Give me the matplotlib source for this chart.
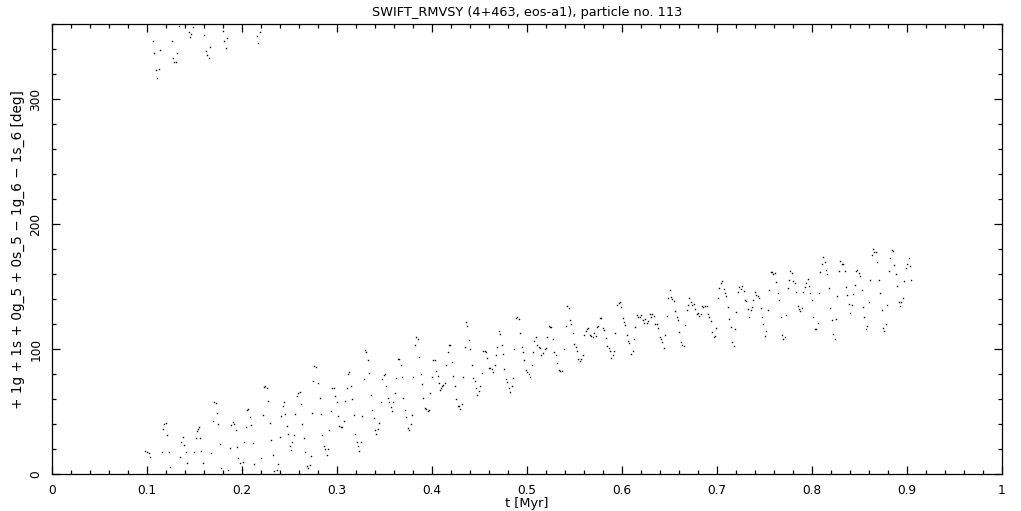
import numpy as np
import matplotlib
matplotlib.use("Agg")
import matplotlib.pyplot as plt
from matplotlib.ticker import MultipleLocator

# resonant angle vs time (t in Myr, angle in deg)
early = [(0.0982, 18.7), (0.0999, 17.9), (0.1021, 17.1), (0.1028, 13.4), (0.1154, 17.4), (0.1168, 35.8),
         (0.1175, 39.9), (0.1196, 40.7), (0.1210, 31.0), (0.1228, 17.4), (0.1238, 5.4), (0.1344, 13.4),
         (0.1354, 25.4), (0.1375, 29.4), (0.1386, 23.0), (0.1407, 17.4), (0.1417, 8.6), (0.1491, 17.4),
         (0.1512, 28.6), (0.1523, 34.2), (0.1533, 35.8), (0.1544, 37.4), (0.1554, 28.6), (0.1565, 18.2),
         (0.1586, 8.6), (0.1670, 16.6), (0.1691, 42.3), (0.1702, 57.5), (0.1723, 56.7), (0.1733, 48.7),
         (0.1744, 39.9), (0.1765, 23.8), (0.1775, 4.6), (0.1849, 3.0), (0.1870, 20.6), (0.1881, 39.1),
         (0.1902, 41.5), (0.1912, 39.9), (0.1933, 35.0), (0.1944, 21.4), (0.1954, 12.6), (0.1975, 8.6),
         (0.1997, 3.0), (0.2007, 9.9), (0.2018, 25.4), (0.2039, 37.4), (0.2049, 51.1), (0.2060, 51.9),
         (0.2081, 45.5), (0.2091, 39.1), (0.2112, 24.6), (0.2123, 7.8), (0.2197, 12.6), (0.2218, 47.1),
         (0.2228, 69.5), (0.2239, 70.3), (0.2260, 68.7), (0.2270, 58.3), (0.2291, 40.7), (0.2302, 27.0)]

# same angle, wrapped just below 360
wrapped = [(0.1059, 347.0), (0.1070, 337.4), (0.1091, 323.7), (0.1102, 317.3), (0.1123, 324.5), (0.1133, 339.8),
           (0.1259, 347.0), (0.1270, 333.4), (0.1281, 330.2), (0.1302, 330.2), (0.1312, 337.4), (0.1333, 359.0),
           (0.1438, 354.2), (0.1449, 350.2), (0.1460, 352.6), (0.1481, 358.2), (0.1596, 351.8), (0.1618, 339.0),
           (0.1628, 335.8), (0.1649, 333.4), (0.1660, 342.2), (0.1797, 355.0), (0.1807, 347.0), (0.1828, 341.4),
           (0.1839, 349.4), (0.2155, 351.0), (0.2165, 345.4), (0.2186, 354.2)]

middle = [(0.2326, 14.9), (0.2333, 2.1), (0.2368, 2.9), (0.2375, 7.7), (0.2396, 29.6), (0.2407, 46.2),
          (0.2428, 54.2), (0.2438, 57.4), (0.2449, 47.8), (0.2470, 38.2), (0.2481, 31.8), (0.2502, 22.2),
          (0.2512, 18.9), (0.2523, 25.4), (0.2544, 31.0), (0.2554, 47.8), (0.2575, 62.2), (0.2586, 64.7),
          (0.2607, 65.5), (0.2617, 55.8), (0.2628, 39.8), (0.2649, 28.6), (0.2660, 17.3), (0.2681, 6.1),
          (0.2691, 4.5), (0.2712, 6.9), (0.2723, 14.1), (0.2733, 48.6), (0.2744, 74.3), (0.2754, 86.3),
          (0.2775, 85.5), (0.2796, 72.7), (0.2817, 60.6), (0.2828, 47.8), (0.2839, 31.0), (0.2860, 22.2),
          (0.2870, 19.7), (0.2891, 14.9), (0.2902, 19.7), (0.2912, 35.0), (0.2933, 50.2), (0.2944, 68.7),
          (0.2965, 68.7), (0.2975, 62.2), (0.2996, 57.4), (0.3007, 46.2), (0.3018, 38.2), (0.3039, 37.9),
          (0.3049, 37.4), (0.3070, 42.2), (0.3081, 58.2), (0.3102, 68.7), (0.3112, 79.9), (0.3123, 81.5),
          (0.3144, 70.3), (0.3154, 59.8), (0.3175, 47.0), (0.3186, 31.8), (0.3207, 25.4), (0.3218, 22.2),
          (0.3228, 18.1), (0.3249, 25.4), (0.3260, 46.2), (0.3281, 75.9), (0.3291, 99.1), (0.3302, 97.5),
          (0.3323, 91.1), (0.3333, 80.7), (0.3355, 63.0), (0.3365, 51.0), (0.3386, 44.6), (0.3397, 35.0),
          (0.3407, 31.8), (0.3428, 35.8), (0.3439, 40.6), (0.3460, 57.4), (0.3470, 75.9), (0.3491, 79.1),
          (0.3502, 79.9), (0.3513, 70.3), (0.3534, 60.6), (0.3544, 57.4), (0.3565, 53.4), (0.3576, 50.2),
          (0.3586, 57.4), (0.3607, 64.7), (0.3618, 76.7), (0.3639, 91.9), (0.3649, 91.9), (0.3670, 87.1),
          (0.3681, 77.5), (0.3691, 60.6), (0.3712, 51.0), (0.3723, 45.4), (0.3744, 36.6), (0.3754, 35.0),
          (0.3776, 39.8), (0.3786, 47.0), (0.3797, 77.5), (0.3818, 103.1), (0.3829, 109.6), (0.3849, 108.0),
          (0.3860, 93.5), (0.3881, 79.9), (0.3892, 71.9), (0.3902, 60.6), (0.3923, 52.6), (0.3934, 51.8),
          (0.3955, 50.2), (0.3965, 51.0), (0.3976, 64.7), (0.3997, 77.5), (0.4007, 91.1), (0.4028, 91.1),
          (0.4039, 82.3), (0.4060, 78.3), (0.4071, 72.7), (0.4081, 67.1), (0.4092, 68.7), (0.4102, 70.3),
          (0.4113, 71.1), (0.4134, 72.7), (0.4144, 87.1), (0.4165, 97.5), (0.4176, 103.1), (0.4187, 103.1)]

later = [(0.4207, 89.5), (0.4218, 78.3), (0.4239, 70.3), (0.4249, 59.9), (0.4270, 54.3), (0.4281, 54.3),
         (0.4291, 51.9), (0.4312, 55.9), (0.4323, 77.5), (0.4344, 101.6), (0.4354, 121.6), (0.4365, 118.4),
         (0.4386, 107.2), (0.4397, 100.0), (0.4418, 87.1), (0.4428, 76.7), (0.4449, 74.3), (0.4460, 68.7),
         (0.4470, 63.1), (0.4491, 66.3), (0.4502, 70.3), (0.4523, 80.7), (0.4533, 98.4), (0.4555, 98.4),
         (0.4565, 97.6), (0.4576, 92.7), (0.4597, 84.7), (0.4607, 84.7), (0.4628, 83.9), (0.4639, 81.5),
         (0.4660, 87.1), (0.4670, 95.1), (0.4681, 101.6), (0.4702, 114.4), (0.4712, 112.0), (0.4734, 103.2),
         (0.4744, 96.0), (0.4755, 83.9), (0.4776, 75.9), (0.4786, 73.5), (0.4807, 68.7), (0.4818, 65.5),
         (0.4839, 70.3), (0.4849, 76.7), (0.4860, 100.0), (0.4881, 124.8), (0.4892, 125.6), (0.4913, 124.0),
         (0.4923, 112.8), (0.4944, 101.6), (0.4955, 97.6), (0.4965, 91.1), (0.4986, 83.1), (0.4997, 81.5),
         (0.5018, 79.9), (0.5028, 77.5), (0.5049, 87.1), (0.5060, 97.6), (0.5071, 106.4), (0.5092, 109.6),
         (0.5102, 103.2), (0.5123, 101.6), (0.5134, 100.8), (0.5144, 95.1), (0.5165, 96.8), (0.5186, 100.0),
         (0.5197, 100.8), (0.5207, 109.6), (0.5228, 118.4), (0.5239, 117.6), (0.5250, 117.6), (0.5271, 108.0),
         (0.5281, 97.6), (0.5302, 95.1), (0.5313, 88.7), (0.5334, 83.1), (0.5344, 82.3), (0.5365, 82.3),
         (0.5386, 100.0), (0.5408, 118.4), (0.5418, 134.4), (0.5439, 132.8), (0.5450, 123.2), (0.5460, 120.0),
         (0.5481, 112.8), (0.5492, 104.0), (0.5513, 101.6), (0.5523, 98.4), (0.5534, 91.9), (0.5555, 90.3),
         (0.5565, 91.9), (0.5587, 95.1), (0.5597, 111.2), (0.5618, 114.4), (0.5629, 116.0), (0.5639, 116.8),
         (0.5660, 111.2), (0.5671, 110.4), (0.5692, 109.6), (0.5702, 112.8), (0.5723, 110.4), (0.5734, 117.6),
         (0.5744, 118.4), (0.5765, 124.8), (0.5776, 124.8), (0.5797, 116.8), (0.5808, 115.2), (0.5829, 108.8),
         (0.5839, 102.4), (0.5860, 100.8), (0.5871, 98.4), (0.5881, 92.7), (0.5902, 95.1), (0.5913, 98.4),
         (0.5924, 112.8), (0.5945, 135.2), (0.5966, 136.9), (0.5976, 137.7), (0.5987, 133.6), (0.6008, 124.8),
         (0.6018, 121.6), (0.6029, 119.2), (0.6050, 111.2), (0.6060, 106.4), (0.6071, 104.8)]

late = [(0.6091, 96.0), (0.6112, 98.4), (0.6122, 108.0), (0.6133, 117.6), (0.6154, 127.3), (0.6164, 125.7),
        (0.6185, 125.7), (0.6196, 127.3), (0.6217, 123.3), (0.6227, 120.9), (0.6238, 124.1), (0.6259, 120.9),
        (0.6270, 122.5), (0.6291, 128.1), (0.6301, 125.7), (0.6312, 128.1), (0.6333, 126.5), (0.6343, 120.1),
        (0.6364, 120.1), (0.6375, 116.8), (0.6396, 109.6), (0.6406, 108.0), (0.6417, 105.6), (0.6438, 100.8),
        (0.6449, 111.2), (0.6470, 126.5), (0.6480, 140.9), (0.6501, 147.3), (0.6512, 141.7), (0.6522, 140.1),
        (0.6543, 138.5), (0.6554, 130.5), (0.6575, 125.7), (0.6585, 123.3), (0.6596, 113.6), (0.6617, 105.6),
        (0.6628, 103.2), (0.6649, 102.4), (0.6659, 119.3), (0.6680, 131.3), (0.6691, 135.3), (0.6701, 140.9),
        (0.6722, 137.7), (0.6733, 135.3), (0.6754, 136.1), (0.6764, 132.1), (0.6785, 128.1), (0.6796, 128.9),
        (0.6807, 126.5), (0.6828, 128.1), (0.6838, 134.5), (0.6849, 133.7), (0.6870, 134.5), (0.6891, 134.5),
        (0.6901, 128.1), (0.6912, 125.7), (0.6933, 122.5), (0.6943, 113.6), (0.6964, 109.6), (0.6975, 110.4),
        (0.6986, 116.8), (0.7007, 140.9), (0.7017, 148.9), (0.7038, 153.0), (0.7049, 154.6), (0.7070, 148.1),
        (0.7080, 144.9), (0.7091, 142.5), (0.7112, 133.7), (0.7122, 124.1), (0.7143, 117.6), (0.7154, 105.6),
        (0.7175, 102.4), (0.7186, 116.0), (0.7196, 129.7), (0.7217, 145.7), (0.7228, 149.7), (0.7249, 148.1),
        (0.7259, 150.5), (0.7280, 146.5), (0.7291, 139.3), (0.7301, 138.5), (0.7322, 132.1), (0.7333, 125.7),
        (0.7354, 131.3), (0.7364, 133.7), (0.7375, 139.3), (0.7396, 145.7), (0.7406, 143.3), (0.7428, 142.5),
        (0.7438, 140.9), (0.7459, 132.9), (0.7470, 125.7), (0.7480, 120.1), (0.7501, 110.4), (0.7512, 114.4),
        (0.7533, 131.3), (0.7544, 147.3), (0.7565, 161.8), (0.7575, 161.8), (0.7586, 160.2), (0.7607, 161.0),
        (0.7617, 153.7), (0.7638, 144.9), (0.7649, 139.3), (0.7670, 125.7), (0.7680, 111.2), (0.7691, 108.0),
        (0.7712, 109.6), (0.7722, 127.3), (0.7743, 148.9), (0.7754, 155.3), (0.7765, 162.5), (0.7786, 161.0),
        (0.7796, 154.5), (0.7817, 153.0), (0.7828, 145.7), (0.7849, 134.5), (0.7860, 132.1), (0.7870, 130.5),
        (0.7891, 132.9), (0.7902, 145.7), (0.7923, 149.7), (0.7933, 153.0), (0.7954, 156.1), (0.7965, 150.5),
        (0.7975, 144.9), (0.7996, 139.3), (0.8007, 125.7), (0.8028, 116.0), (0.8038, 116.0), (0.8059, 120.9),
        (0.8070, 144.9), (0.8080, 161.8), (0.8101, 168.2), (0.8112, 173.8), (0.8133, 169.8), (0.8143, 163.4),
        (0.8154, 160.2), (0.8175, 148.9), (0.8186, 132.9), (0.8207, 123.0), (0.8217, 112.0), (0.8238, 108.0),
        (0.8249, 124.1), (0.8259, 142.5), (0.8280, 162.6), (0.8291, 170.6), (0.8312, 168.2), (0.8322, 168.2),
        (0.8343, 162.6), (0.8354, 149.7), (0.8364, 143.3), (0.8386, 136.1), (0.8396, 128.9), (0.8417, 135.3),
        (0.8428, 144.1), (0.8449, 151.3), (0.8459, 162.6), (0.8470, 163.4), (0.8491, 161.0), (0.8501, 158.5),
        (0.8522, 147.3), (0.8533, 133.7), (0.8544, 125.7), (0.8565, 116.0), (0.8575, 118.5), (0.8596, 137.7),
        (0.8607, 155.3), (0.8628, 175.4), (0.8638, 180.2), (0.8649, 177.8), (0.8670, 177.8), (0.8680, 169.8),
        (0.8701, 155.3), (0.8712, 144.9), (0.8733, 131.3), (0.8744, 116.8), (0.8754, 114.4), (0.8775, 120.1),
        (0.8786, 135.3), (0.8807, 162.6), (0.8817, 173.0), (0.8838, 179.4), (0.8849, 178.6), (0.8859, 167.4),
        (0.8880, 160.2), (0.8891, 150.5), (0.8912, 137.7), (0.8923, 134.5), (0.8933, 137.7), (0.8954, 140.9),
        (0.8965, 154.5), (0.8986, 165.0), (0.8996, 168.2), (0.9017, 173.0), (0.9028, 166.6), (0.9038, 155.3)]

title = "SWIFT_RMVSY (4+463, eos-a1), particle no. 113"
xlabel = "t [Myr]"
ylabel = "+ 1g + 1s + 0g_5 + 0s_5 \u2212 1g_6 \u2212 1s_6 [deg]"

pts = np.array(early + wrapped + middle + later + late)
t, phi = pts[:, 0], pts[:, 1]

plt.rcParams['font.family'] = ['DejaVu Sans']
fig = plt.figure(figsize=(10.21, 5.11), dpi=100)
ax = fig.add_axes([52 / 1021, 37 / 511, 950 / 1021, 449.5 / 511])

ax.plot(t, phi, 's', ms=1.0, mew=0, color='black')

ax.set_xlim(0, 1)
ax.set_ylim(0, 360)
ax.xaxis.set_minor_locator(MultipleLocator(0.02))
ax.yaxis.set_major_locator(MultipleLocator(100))
ax.yaxis.set_minor_locator(MultipleLocator(20))
ax.set_xticks(np.arange(0, 1.01, 0.1))
ax.set_xticklabels(['0', '0.1', '0.2', '0.3', '0.4', '0.5', '0.6', '0.7', '0.8', '0.9', '1'])
ax.tick_params(which='both', direction='in', top=True, right=True, width=0.9, labelsize=8.7)
ax.tick_params(which='major', length=5.8)
ax.tick_params(which='minor', length=2.9)
ax.tick_params(axis='x', pad=7)
ax.tick_params(axis='y', pad=7)
for lab in ax.get_yticklabels():
    lab.set_rotation(90)
    lab.set_va('center')
for s in ax.spines.values():
    s.set_linewidth(0.9)

ax.set_title(title, fontsize=9.3, pad=6)
ax.set_xlabel(xlabel, fontsize=9.3, labelpad=0)
ax.set_ylabel(ylabel, fontsize=9.8, labelpad=3)

fig.savefig("out.png", dpi=100)
